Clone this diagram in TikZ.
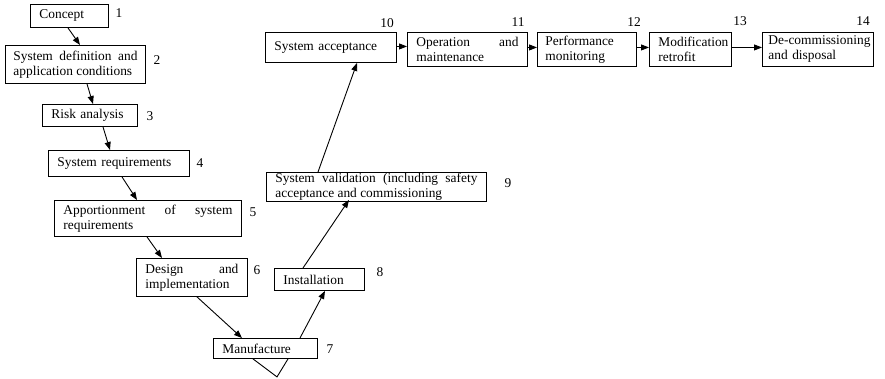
\documentclass[tikz,border=0pt]{standalone}
\usepackage{fontspec}
\setmainfont{Liberation Serif}
\usetikzlibrary{arrows.meta}
\hyphenpenalty=10000
\exhyphenpenalty=10000
\tolerance=10000
\newcommand\figfont{\fontsize{13.4}{15}\selectfont}
\begin{document}
\begin{tikzpicture}[x=1pt,y=-1pt,
  box/.style={draw, line width=0.9pt, anchor=north west, inner xsep=9pt,
    inner ysep=1pt, font=\figfont, align=left},
  jbox/.style={box, align=justify},
  num/.style={font=\figfont, inner sep=0pt},
  arr/.style={line width=0.9pt, -{Triangle[length=8pt,width=6pt]}},
  plain/.style={line width=0.9pt}]
\useasboundingbox (0,0) rectangle (885,378);

% lifecycle phases
\node[box, minimum width=78pt, minimum height=23pt, text width=60pt] (c1) at (30,4) {Concept};
\node[jbox, inner xsep=8pt, minimum width=140pt, minimum height=38pt, text width=124pt] (c2) at (5,45) {System definition and application conditions};
\node[box, minimum width=95pt, minimum height=22pt, text width=77pt] (c3) at (42,104) {Risk analysis};
\node[box, minimum width=141pt, minimum height=26pt, text width=123pt] (c4) at (48,150) {System requirements};
\node[jbox, minimum width=187pt, minimum height=36pt, text width=169pt] (c5) at (54,200) {Apportionment of system requirements};
\node[jbox, minimum width=111pt, minimum height=38pt, text width=93pt] (c6) at (136,258) {Design and implementation};
\node[box, minimum width=104pt, minimum height=20pt, text width=86pt] (c7) at (213,338) {Manufacture};
\node[box, minimum width=90pt, minimum height=22pt, text width=72pt] (c8) at (274,268) {Installation};
\node[jbox, inner ysep=0pt, minimum width=220pt, minimum height=29pt, text width=202pt] (c9) at (266,172) {System validation (including safety acceptance and commissioning};
\node[box, minimum width=131pt, minimum height=30pt, text width=113pt] (c10) at (265,32) {System acceptance};
\node[jbox, minimum width=120pt, minimum height=34pt, text width=102pt] (c11) at (407,32) {Operation and maintenance};
\node[box, inner xsep=8pt, minimum width=99pt, minimum height=34pt, text width=83pt] (c12) at (537,32) {Performance monitoring};
\node[box, minimum width=82pt, minimum height=34pt, text width=64pt] (c13) at (649,32) {Modification retrofit};
\node[box, inner xsep=6pt, minimum width=111pt, minimum height=34pt, text width=99pt] (c14) at (762,32) {De-commissioning and disposal};

% phase numbers
\node[num] (n1) at (119,13) {1};
\node[num] (n2) at (157,60) {2};
\node[num] (n3) at (150,116) {3};
\node[num] (n4) at (200,163) {4};
\node[num] (n5) at (253,212) {5};
\node[num] (n6) at (257,270) {6};
\node[num] (n7) at (330,349) {7};
\node[num] (n8) at (380,272) {8};
\node[num] (n9) at (508,183) {9};
\node[num] (n10) at (387,23) {10};
\node[num] (n11) at (518,22) {11};
\node[num] (n12) at (634,22) {12};
\node[num] (n13) at (740,21) {13};
\node[num] (n14) at (863,21) {14};

% descending branch
\draw[arr] ([xshift=38pt]c1.south west) -- ([xshift=75pt]c2.north west);
\draw[arr] ([xshift=82pt]c2.south west) -- ([xshift=51pt]c3.north west);
\draw[arr] ([xshift=61pt]c3.south west) -- ([xshift=62pt]c4.north west);
\draw[arr] ([xshift=74pt]c4.south west) -- ([xshift=83pt]c5.north west);
\draw[arr] ([xshift=93pt]c5.south west) -- ([xshift=26pt]c6.north west);
\draw[arr] ([xshift=61pt]c6.south west) -- ([xshift=29pt]c7.north west);

% vertex under manufacture
\coordinate (v1) at ([xshift=40pt]c7.south west);
\coordinate (v2) at ([xshift=64pt,yshift=-18pt]c7.south west);
\coordinate (v3) at ([xshift=75pt]c7.south west);
\draw[plain] (v1) -- (v2) -- (v3);

% ascending branch
\draw[arr] ([xshift=87pt]c7.north west) -- ([xshift=51pt]c8.south west);
\draw[arr] ([xshift=29pt]c8.north west) -- ([xshift=83pt,yshift=2pt]c9.south west);
\draw[arr] ([xshift=52pt]c9.north west) -- ([xshift=92pt]c10.south west);

% operational phases
\draw[arr] ([yshift=1pt]c10.east) -- ([yshift=1pt]c10.east -| c11.west);
\draw[arr] ([yshift=2pt]c11.east) -- ([yshift=2pt]c12.west);
\draw[arr] ([yshift=2pt]c12.east) -- ([yshift=2pt]c13.west);
\draw[arr] ([yshift=2pt]c13.east) -- ([yshift=2pt]c14.west);
\end{tikzpicture}
\end{document}
